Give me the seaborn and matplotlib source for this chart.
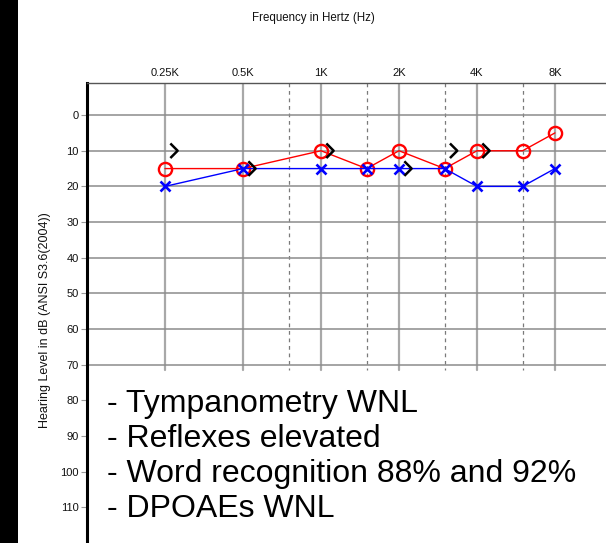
import numpy as np
import pandas as pd
import seaborn as sns
import matplotlib
matplotlib.use("Agg")
import matplotlib.pyplot as plt
from matplotlib.path import Path
from matplotlib.patches import Rectangle
from matplotlib.transforms import ScaledTranslation

# Audiogram thresholds (dB HL)
freqs = [250, 500, 1000, 1500, 2000, 3000, 4000, 6000, 8000]
right_air = [15, 15, 10, 15, 10, 15, 10, 10, 5]
left_air = [20, 15, 15, 15, 15, 15, 20, 20, 15]
bone_freqs = [250, 500, 1000, 2000, 3000, 4000]
left_bone = [10, 15, 10, 15, 10, 10]

octave_freqs = [250, 500, 1000, 2000, 4000, 8000]
octave_labels = ["0.25K", "0.5K", "1K", "2K", "4K", "8K"]
mid_freqs = [750, 1500, 3000, 6000]
db_ticks = list(range(0, 120, 10))
notes = ["- Tympanometry WNL", "- Reflexes elevated",
         "- Word recognition 88% and 92%", "- DPOAEs WNL"]

sns.set_theme(style="white")
plt.rcParams["font.family"] = ["Liberation Sans", "DejaVu Sans"]

W, H, DPI = 606, 543, 100
fig = plt.figure(figsize=(W / DPI, H / DPI), dpi=DPI, facecolor="white")
fig.patches.append(Rectangle((0, 0), 18 / W, 1, transform=fig.transFigure,
                             facecolor="black", edgecolor="none", zorder=-1))

ax = fig.add_axes([87 / W, 0, 1 - 87 / W, 1 - 83 / H])
ax.set_xscale("log", base=2)
ax.set_xlim(125, 12590)
ax.set_ylim(120, -9)

# grid
for f in octave_freqs:
    ax.plot([f, f], [-9, 71.5], color="#a8a8a8", lw=1.6, zorder=1)
for f in mid_freqs:
    ax.plot([f, f], [-9, 71.5], color="#7a7a7a", lw=0.9,
            linestyle=(0, (3, 3)), zorder=1)
for d in range(0, 80, 10):
    ax.axhline(d, color="#8c8c8c", lw=1.1, zorder=1)

air = pd.DataFrame({"freq": freqs, "right": right_air, "left": left_air})
sns.lineplot(data=air, x="freq", y="right", ax=ax, color="#ff0000", lw=1,
             marker="o", markersize=9.5, markerfacecolor="none",
             markeredgecolor="#ff0000", markeredgewidth=1.7, zorder=4)
sns.lineplot(data=air, x="freq", y="left", ax=ax, color="#0000ff", lw=1,
             marker="x", markersize=7.5, markeredgecolor="#0000ff",
             markeredgewidth=1.9, zorder=5)

chevron = Path([(-0.25, 0.5), (0.25, 0.0), (-0.25, -0.5)],
               [Path.MOVETO, Path.LINETO, Path.LINETO])
bone = pd.DataFrame({"freq": bone_freqs, "db": left_bone})
sns.scatterplot(data=bone, x="freq", y="db", ax=ax, marker=chevron, s=110,
                facecolor="none", edgecolor="black", linewidth=1.8, zorder=6)
coll = ax.collections[-1]
coll.set_offset_transform(ax.transData +
                          ScaledTranslation(9 / DPI, 0, fig.dpi_scale_trans))

ax.set_xlabel("")
ax.set_ylabel("")
ax.xaxis.tick_top()
ax.set_xticks(octave_freqs)
ax.set_xticklabels(octave_labels)
ax.xaxis.set_minor_locator(matplotlib.ticker.NullLocator())
ax.tick_params(axis="x", top=True, bottom=False, length=0, pad=3.5,
               labelsize=8, labelcolor="#111111")
ax.set_yticks(db_ticks)
ax.set_yticklabels([str(v) for v in db_ticks])
ax.tick_params(axis="y", left=True, length=4, width=0.8, color="#9a9a9a",
               pad=2, labelsize=8, labelcolor="#111111")

for s in ("right", "bottom"):
    ax.spines[s].set_visible(False)
ax.spines["left"].set_color("black")
ax.spines["left"].set_linewidth(2.2)
ax.spines["top"].set_color("#555555")
ax.spines["top"].set_linewidth(1)
ax.spines["top"].set_linestyle((0, (1, 1)))

fig.text(313 / W, 1 - 18 / H, "Frequency in Hertz (Hz)", ha="center",
         va="center", fontsize=8.3, color="#111111")
fig.text(45 / W, 1 - 320 / H, "Hearing Level in dB (ANSI S3.6(2004))",
         ha="center", va="center", rotation=90, fontsize=9, color="#111111")

# notes block, one line per finding
for i, line in enumerate(notes):
    fig.text(107 / W, 1 - (412 + 35 * i) / H, line, ha="left",
             va="baseline", fontsize=23, color="black")

fig.savefig("out.png", dpi=DPI, facecolor="white")
